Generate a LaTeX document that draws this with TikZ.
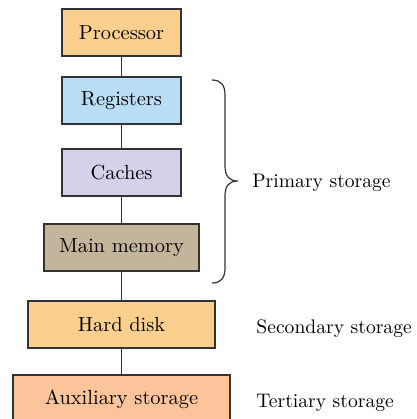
\documentclass[tikz,border=0pt]{standalone}
\begin{document}
\begin{tikzpicture}[x=0.5pt,y=-0.5pt,
  box/.style={draw=black!80, line width=0.6pt, inner sep=0pt, minimum height=23.5pt, text=black, font=\fontsize{10.2}{12}\selectfont},
  lbl/.style={anchor=west, inner sep=0pt, text=black, font=\fontsize{9.8}{12}\selectfont},
  conn/.style={draw=black!80, line width=0.6pt}]
\definecolor{cproc}{HTML}{FBD08E}
\definecolor{creg}{HTML}{B9DDF4}
\definecolor{ccache}{HTML}{D4D2EA}
\definecolor{cmain}{HTML}{C3B49C}
\definecolor{cdisk}{HTML}{FBD08E}
\definecolor{caux}{HTML}{FCC49A}
\useasboundingbox (0,0) rectangle (417,419);
\begin{scope}
\clip (0,0) rectangle (417,419);
\node[box, fill=cproc, minimum width=59.5pt] (proc) at (121.5,32.5) {Processor};
\node[box, fill=creg, minimum width=59.5pt] (reg) at (121.5,100.5) {Registers};
\node[box, fill=ccache, minimum width=59.5pt] (cache) at (121.5,172.5) {Caches};
\node[box, fill=cmain, minimum width=77.5pt] (main) at (121.5,247.5) {Main memory};
\node[box, fill=cdisk, minimum width=93.5pt] (disk) at (121.5,324.5) {Hard disk};
\node[box, fill=caux, minimum width=108.5pt, minimum height=27pt] (aux) at (121.5,402) {};
\node[inner sep=0pt, text=black, font=\fontsize{10.2}{12}\selectfont] (auxt) at (121.5,399) {Auxiliary storage};
\draw[conn] (proc) -- (reg);
\draw[conn] (reg) -- (cache);
\draw[conn] (cache) -- (main);
\draw[conn] (main) -- (disk);
\draw[conn] (disk) -- (aux);
\end{scope}
\coordinate (bt) at (212,80);
\coordinate (bm) at (238,181);
\coordinate (bb) at (212,283);
\draw[conn] (bt) .. controls (221,80) and (225,85) .. (225,95)
  -- (225,166) .. controls (225,176) and (229,181) .. (bm)
  .. controls (229,181) and (225,186) .. (225,196)
  -- (225,268) .. controls (225,278) and (221,283) .. (bb);
\node[lbl] (prim) at (252,183) {Primary storage};
\node[lbl] (sec) at (256,329) {Secondary storage};
\node[lbl] (ter) at (256,403) {Tertiary storage};
\end{tikzpicture}
\end{document}
